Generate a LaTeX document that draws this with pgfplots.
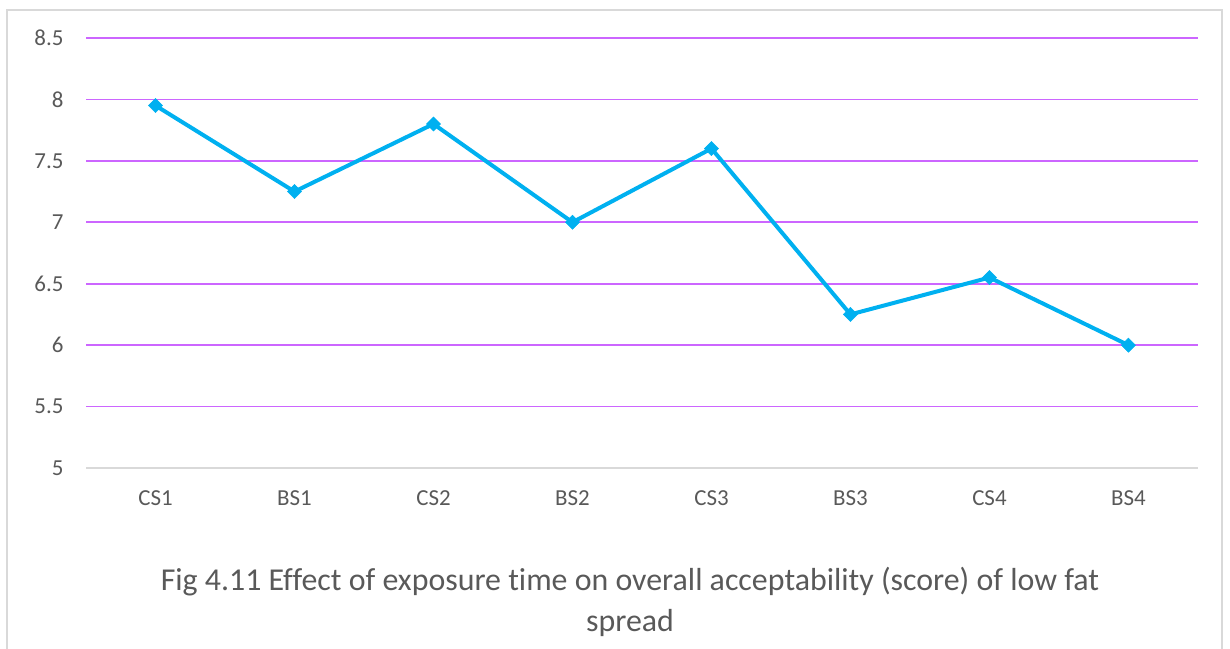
\documentclass[border=0pt]{standalone}
\usepackage{pgfplots}
\pgfplotsset{compat=1.18}
\usepackage{fontspec}
\setmainfont{Carlito}[RawFeature=-liga]
\definecolor{txtgray}{HTML}{595959}
\definecolor{framegray}{HTML}{D9D9D9}
\definecolor{gridviolet}{HTML}{CC66FF}
\definecolor{lineblue}{HTML}{00B0F0}
\begin{document}
\begin{tikzpicture}[x=1bp,y=1bp]
\useasboundingbox (0,0) rectangle (1230,649);
% chart frame
\draw[framegray, line width=1.5bp] (7,-5) -- (7,639) -- (1222,639) -- (1222,-5);
\begin{axis}[
  at={(86bp,181bp)}, anchor=south west,
  scale only axis, width=1112bp, height=430bp,
  xmin=-0.5, xmax=7.5, ymin=5, ymax=8.5,
  xtick={0,...,7},
  xticklabels={CS1,BS1,CS2,BS2,CS3,BS3,CS4,BS4},
  ytick={5,5.5,...,8.5},
  yticklabels={5,5.5,6,6.5,7,7.5,8,8.5},
  axis line style={draw=none},
  axis x line*=bottom,
  axis y line*=left,
  x axis line style={draw=framegray, line width=1.5bp},
  major tick length=0pt,
  tick style={draw=none},
  ymajorgrids,
  grid style={gridviolet, line width=1.8bp},
  ticklabel style={font=\fontsize{23}{26}\selectfont, text=txtgray},
  yticklabel style={xshift=-19bp},
  xticklabel style={yshift=-19bp},
  clip=false,
]
\addplot[draw=framegray, line width=1.5bp, forget plot] coordinates {(-0.5,5) (7.5,5)};
\addplot[lineblue, line width=4bp, mark=square*, mark size=5bp,
  mark options={fill=lineblue, draw=lineblue, line width=0.5bp, rotate=45}]
  coordinates {
    (0,7.95) (1,7.25) (2,7.8) (3,7.0) (4,7.6) (5,6.25) (6,6.55) (7,6.0)
  };
\end{axis}
\node[text=txtgray, font=\fontsize{32}{36}\selectfont] at (630,67)
  {Fig 4.11 Effect of exposure time on overall acceptability (score) of low fat};
\node[text=txtgray, font=\fontsize{32}{36}\selectfont] at (630,26) {spread};
\end{tikzpicture}
\end{document}
